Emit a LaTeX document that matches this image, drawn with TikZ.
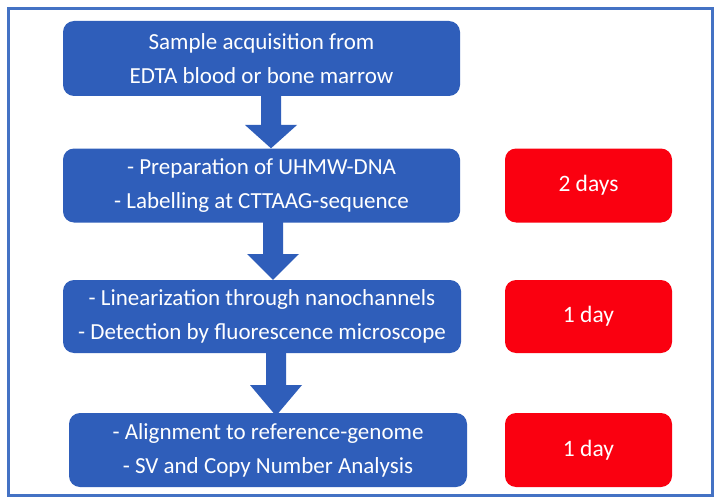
\documentclass[tikz,border=0pt]{standalone}
\usepackage{fontspec}
\setmainfont{Carlito}
\usetikzlibrary{calc}
\definecolor{boxblue}{RGB}{47,94,186}
\definecolor{framblue}{RGB}{68,114,196}
\definecolor{boxred}{RGB}{250,0,16}
\tikzset{
  stepbox/.style={fill=boxblue, rounded corners=11pt, text=white, align=center,
    inner sep=0pt, font=\fontsize{23}{34}\selectfont},
  timebox/.style={fill=boxred, rounded corners=11pt, text=white, align=center,
    inner sep=0pt, minimum width=167pt, font=\fontsize{23.5}{28}\selectfont},
  blockarrow/.style={fill=boxblue}
}
\begin{document}
\begin{tikzpicture}[x=1pt,y=-1pt]
\useasboundingbox (0,0) rectangle (721,503);
\fill[white] (0,0) rectangle (721,503);
\draw[framblue, line width=3pt] (8,9) rectangle (712,495);

\node[stepbox, minimum width=397pt, minimum height=75pt] (b1) at (261.5,58.5)
  {Sample acquisition from\\EDTA blood or bone marrow};
\node[stepbox, minimum width=397pt, minimum height=74pt] (b2) at (261.5,185.5)
  {- Preparation of UHMW-DNA\\- Labelling at CTTAAG-sequence};
\node[stepbox, minimum width=398pt, minimum height=73pt] (b3) at (262,316.5)
  {- Linearization through nanochannels\\- Detection by fluorescence microscope};
\node[stepbox, minimum width=398pt, minimum height=74pt] (b4) at (268,450)
  {- Alignment to reference-genome\\- SV and Copy Number Analysis};

\node[timebox, minimum height=74pt] (r1) at (588.5,185.5) {2 days};
\node[timebox, minimum height=73pt] (r2) at (588.5,316.5) {1 day};
\node[timebox, minimum height=74pt] (r3) at (588.5,450) {1 day};

% block arrows between the step boxes
\path let \p1=(b1.south), \p2=(b2.north) in
  [blockarrow] (271-10,\y1+3) -- (271+10,\y1+3) -- (271+10,125) -- (271+26,125)
  -- (271,\y2) -- (271-26,125) -- (271-10,125) -- cycle;
\path let \p1=(b2.south), \p2=(b3.north) in
  [blockarrow] (273-10,\y1+4) -- (273+10,\y1+4) -- (273+10,254) -- (273+26,254)
  -- (273,\y2) -- (273-26,254) -- (273-10,254) -- cycle;
\path let \p1=(b3.south), \p2=(b4.north) in
  [blockarrow] (276-10,\y1+4) -- (276+10,\y1+4) -- (276+10,385) -- (276+26,385)
  -- (276,\y2-3) -- (276-26,385) -- (276-10,385) -- cycle;
\end{tikzpicture}
\end{document}
